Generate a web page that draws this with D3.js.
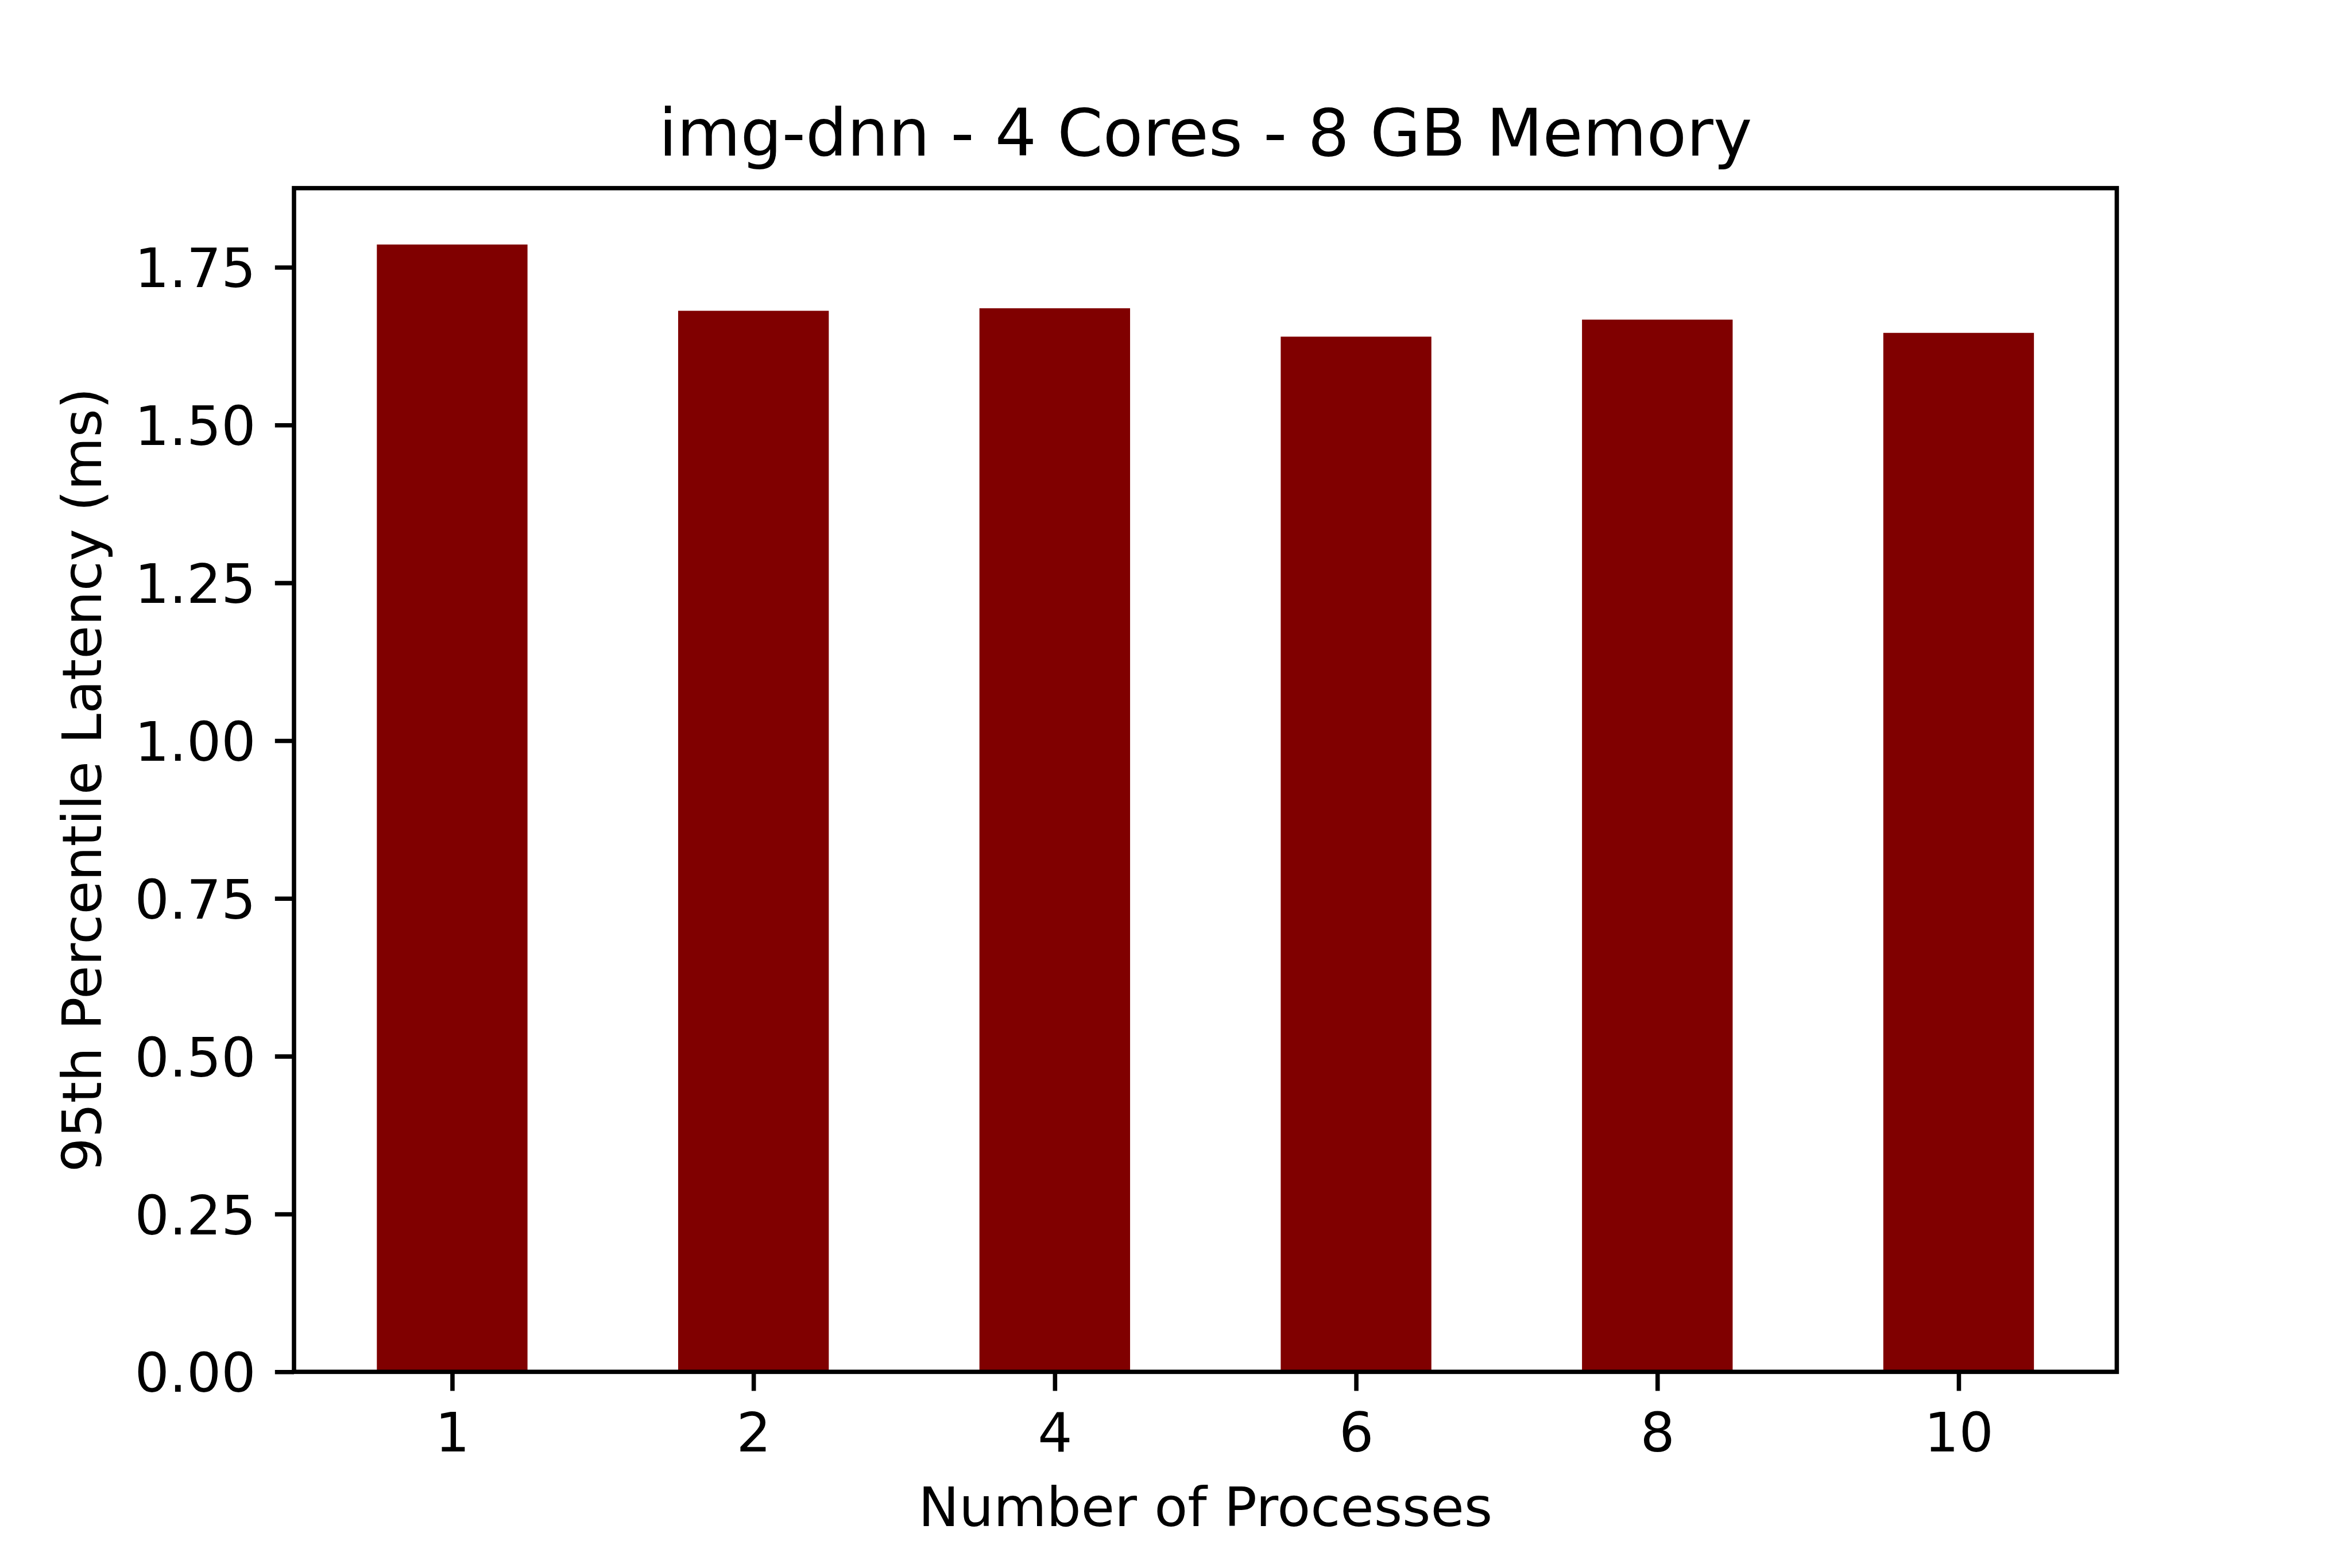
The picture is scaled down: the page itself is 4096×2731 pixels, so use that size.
<!DOCTYPE html>
<html>
<head>
<meta charset="utf-8">
<script src="https://cdn.jsdelivr.net/npm/d3@7"></script>
<style>
  html, body { margin: 0; padding: 0; background: #ffffff; }
  svg { display: block; }
</style>
</head>
<body>
<script>
// ---- Data ----
const categories = ["1", "2", "4", "6", "8", "10"];
const latencyValues = [1.786, 1.681, 1.685, 1.640, 1.667, 1.646];
const yTickValues = [0, 0.25, 0.5, 0.75, 1.0, 1.25, 1.5, 1.75];
const titleText = "img-dnn - 4 Cores - 8 GB Memory";
const xLabelText = "Number of Processes";
const yLabelText = "95th Percentile Latency (ms)";

// ---- Layout (reference 6000x4000 scaled) ----
const W = 4096, H = 2731;
const s = W / 6000;
const axLeft = 750 * s, axRight = 5400 * s, axTop = 480 * s, axBottom = 3500 * s;
const lw = 11.1 * s;
const tickLen = 48.6 * s;
const tickPad = 48.6 * s;
const tickFont = 138.9 * s;
const titleFont = 166.7 * s;
const barColor = "#800000";
const font = "DejaVu Sans";

const svg = d3.select("body").append("svg")
  .attr("width", W).attr("height", H)
  .attr("viewBox", `0 0 ${W} ${H}`);
svg.append("rect").attr("width", W).attr("height", H).attr("fill", "#ffffff");

const n = categories.length;
const x = d3.scaleLinear()
  .domain([-0.25 - 0.05 * (n - 0.5), (n - 0.75) + 0.05 * (n - 0.5)])
  .range([axLeft, axRight]);
const yMax = d3.max(latencyValues) * 1.05;
const y = d3.scaleLinear().domain([0, yMax]).range([axBottom, axTop]);
const barWidth = 0.5;

// bars
svg.append("g").selectAll("rect")
  .data(latencyValues)
  .join("rect")
  .attr("x", (d, i) => x(i - barWidth / 2))
  .attr("width", (d, i) => x(i + barWidth / 2) - x(i - barWidth / 2))
  .attr("y", d => y(d))
  .attr("height", d => y(0) - y(d))
  .attr("fill", barColor);

// x axis
const xAxis = d3.axisBottom(x)
  .tickValues(d3.range(n))
  .tickFormat(i => categories[i])
  .tickSize(tickLen)
  .tickSizeOuter(0)
  .tickPadding(tickPad);
const gx = svg.append("g").attr("transform", `translate(0,${axBottom})`).call(xAxis);
gx.select(".domain").remove();
gx.selectAll(".tick line").attr("stroke", "#000").attr("stroke-width", lw);
gx.selectAll(".tick text")
  .attr("font-family", font).attr("font-size", tickFont).attr("fill", "#000")
  .attr("y", tickLen + tickPad).attr("dy", null)
  .attr("dominant-baseline", "alphabetic")
  .attr("transform", `translate(0,${0.76 * tickFont})`);

// y axis
const yAxis = d3.axisLeft(y)
  .tickValues(yTickValues)
  .tickFormat(d3.format(".2f"))
  .tickSize(tickLen)
  .tickSizeOuter(0)
  .tickPadding(tickPad);
const gy = svg.append("g").attr("transform", `translate(${axLeft},0)`).call(yAxis);
gy.select(".domain").remove();
gy.selectAll(".tick line").attr("stroke", "#000").attr("stroke-width", lw);
gy.selectAll(".tick text")
  .attr("font-family", font).attr("font-size", tickFont).attr("fill", "#000")
  .attr("dy", null)
  .attr("transform", `translate(0,${0.3645 * tickFont})`);

// frame (spines)
svg.append("rect")
  .attr("x", axLeft).attr("y", axTop)
  .attr("width", axRight - axLeft).attr("height", axBottom - axTop)
  .attr("fill", "none").attr("stroke", "#000").attr("stroke-width", lw)
  .attr("stroke-linecap", "square");

// title
svg.append("text")
  .attr("x", (axLeft + axRight) / 2).attr("y", 397 * s)
  .attr("text-anchor", "middle")
  .attr("font-family", font).attr("font-size", titleFont).attr("fill", "#000")
  .text(titleText);

// x label
svg.append("text")
  .attr("x", (axLeft + axRight) / 2).attr("y", 3894 * s)
  .attr("text-anchor", "middle")
  .attr("font-family", font).attr("font-size", tickFont).attr("fill", "#000")
  .text(xLabelText);

// y label
svg.append("text")
  .attr("transform", `translate(${258 * s},${(axTop + axBottom) / 2}) rotate(-90)`)
  .attr("text-anchor", "middle")
  .attr("font-family", font).attr("font-size", tickFont).attr("fill", "#000")
  .text(yLabelText);
</script>
</body>
</html>
